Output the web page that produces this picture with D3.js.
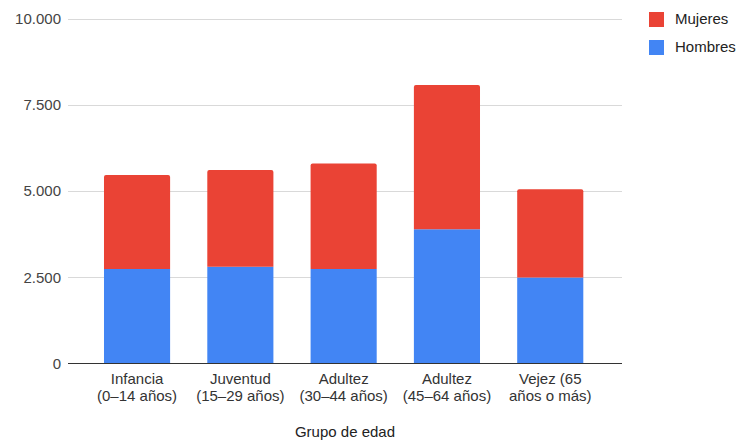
<!DOCTYPE html>
<html>
<head>
<meta charset="utf-8">
<script src="https://cdn.jsdelivr.net/npm/d3@7/dist/d3.min.js"></script>
<style>
  html, body { margin: 0; padding: 0; background: #fff; }
  svg { display: block; font-family: "Liberation Sans", Arial, sans-serif; }
</style>
</head>
<body>
<svg id="chart" width="737" height="442"></svg>
<script>
const categories = [
  ["Infancia", "(0–14 años)"],
  ["Juventud", "(15–29 años)"],
  ["Adultez", "(30–44 años)"],
  ["Adultez", "(45–64 años)"],
  ["Vejez (65", "años o más)"]
];
const hombres = [2740, 2805, 2740, 3890, 2490];
const mujeres = [2725, 2805, 3060, 4180, 2560];
const seriesNames = ["Hombres", "Mujeres"];
const seriesColors = ["#4285F4", "#EA4335"];
const yTicks = [0, 2500, 5000, 7500, 10000];
const xTitle = "Grupo de edad";

const svg = d3.select("#chart");
const plot = { left: 68, right: 622, top: 18.5, bottom: 363.5 };

const keys = categories.map((c, i) => i);
const x = d3.scaleBand().domain(keys).range([85.4, 601.9]).paddingInner(0.36).paddingOuter(0.18);
const y = d3.scaleLinear().domain([0, 10000]).range([plot.bottom, plot.top]);

const fmt = v => d3.format(",")(v).replace(/,/g, ".");

// gridlines
svg.append("g").selectAll("line").data(yTicks.filter(t => t > 0)).join("line")
  .attr("x1", plot.left).attr("x2", plot.right)
  .attr("y1", d => Math.round(y(d)) + 0.5).attr("y2", d => Math.round(y(d)) + 0.5)
  .attr("stroke", "#d9d9d9").attr("stroke-width", 1.2);

// y axis labels
const yAxis = d3.axisLeft(y).tickValues(yTicks).tickFormat(fmt).tickSize(0).tickPadding(7);
const yg = svg.append("g").attr("transform", `translate(${plot.left},0)`).call(yAxis);
yg.select(".domain").remove();
yg.selectAll("text").attr("font-size", 15).attr("fill", "#444").attr("font-family", "Liberation Sans, Arial, sans-serif");

// stacked data
const data = keys.map(i => ({ i, Hombres: hombres[i], Mujeres: mujeres[i] }));
const stack = d3.stack().keys(seriesNames)(data);

const layers = svg.append("g").selectAll("g").data(stack).join("g")
  .attr("fill", (d, k) => seriesColors[k]);

layers.each(function(layer, k) {
  const top = k === stack.length - 1;
  d3.select(this).selectAll("path").data(layer).join("path")
    .attr("d", d => {
      const x0 = x(d.data.i), w = x.bandwidth();
      const y0 = y(d[0]), y1 = y(d[1]);
      const r = top ? 2 : 0;
      return `M${x0},${y0}V${y1 + r}Q${x0},${y1} ${x0 + r},${y1}H${x0 + w - r}Q${x0 + w},${y1} ${x0 + w},${y1 + r}V${y0}Z`;
    });
});

// baseline
svg.append("line").attr("x1", plot.left).attr("x2", plot.right)
  .attr("y1", y(0)).attr("y2", y(0)).attr("stroke", "#333").attr("stroke-width", 1.2);

// x labels
const xAxis = d3.axisBottom(x).tickSize(0).tickFormat(() => "");
const xg = svg.append("g").attr("transform", `translate(0,${plot.bottom})`).call(xAxis);
xg.select(".domain").remove();
xg.selectAll(".tick text").remove();
xg.selectAll(".tick").append("text")
  .attr("text-anchor", "middle").attr("fill", "#333").attr("font-size", 15)
  .attr("font-family", "Liberation Sans, Arial, sans-serif")
  .selectAll("tspan").data(i => categories[i]).join("tspan")
  .attr("x", 0).attr("y", (d, j) => 20.5 + j * 16.5).text(d => d);

// x title
svg.append("text").attr("x", (plot.left + plot.right) / 2).attr("y", 436.5)
  .attr("text-anchor", "middle").attr("font-size", 15).attr("fill", "#222").text(xTitle);

// legend
const legendItems = [{ name: "Mujeres", color: seriesColors[1] }, { name: "Hombres", color: seriesColors[0] }];
const lg = svg.append("g").selectAll("g").data(legendItems).join("g")
  .attr("transform", (d, j) => `translate(649,${12 + j * 28})`);
lg.append("rect").attr("width", 15).attr("height", 15).attr("fill", d => d.color);
lg.append("text").attr("x", 26).attr("y", 12).attr("font-size", 15).attr("fill", "#222").text(d => d.name);
</script>
</body>
</html>
